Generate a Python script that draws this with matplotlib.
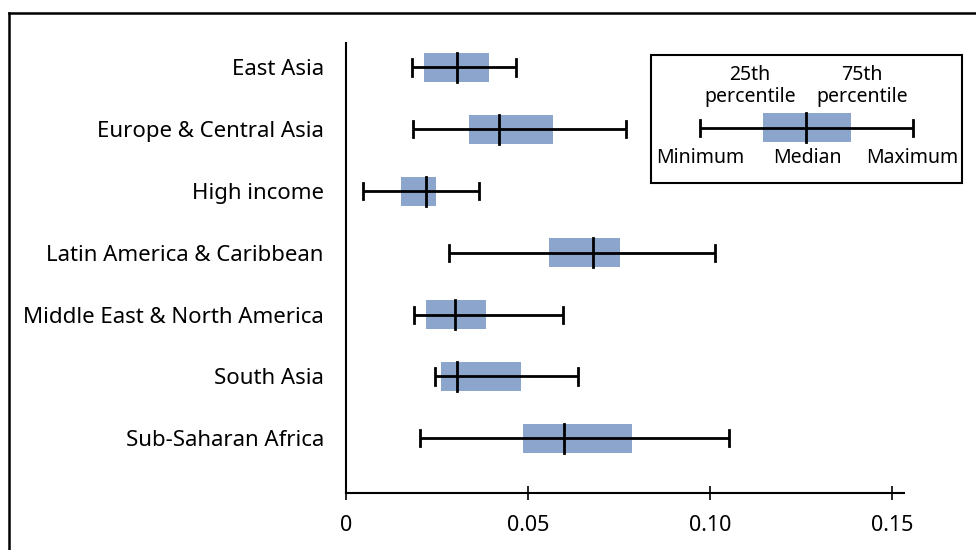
import matplotlib
matplotlib.use("Agg")
import matplotlib.pyplot as plt
from matplotlib.patches import Rectangle

plt.rcParams['font.family'] = ['Noto Sans', 'DejaVu Sans']

regions = ["East Asia", "Europe & Central Asia", "High income",
           "Latin America & Caribbean", "Middle East & North America",
           "South Asia", "Sub-Saharan Africa"]
minimum = [0.0181, 0.0184, 0.0048, 0.0283, 0.0187, 0.0245, 0.0202]
q25     = [0.0214, 0.0337, 0.0151, 0.0559, 0.0219, 0.0260, 0.0485]
median  = [0.0306, 0.0420, 0.0221, 0.0679, 0.0300, 0.0305, 0.0600]
q75     = [0.0394, 0.0570, 0.0247, 0.0754, 0.0384, 0.0480, 0.0787]
maximum = [0.0466, 0.0768, 0.0366, 0.1014, 0.0597, 0.0638, 0.1052]
xticks = [0, 0.05, 0.10, 0.15]
xticklabels = ["0", "0.05", "0.10", "0.15"]

W, H = 976, 550
fig = plt.figure(figsize=(W/100, H/100), dpi=100)
ax = fig.add_axes([346/W, (H-493)/H, (904-346)/W, (493-43)/H])

box_color = "#8BA5CC"
box_h = 0.47
cap_h = 0.26
lw = 2.0
for i in range(len(regions)):
    ax.add_patch(Rectangle((q25[i], i - box_h/2), q75[i]-q25[i], box_h,
                           facecolor=box_color, edgecolor="none", zorder=1))
    ax.plot([minimum[i], maximum[i]], [i, i], color="black", lw=lw, zorder=2,
            solid_capstyle="butt")
    for v in (minimum[i], maximum[i]):
        ax.plot([v, v], [i - cap_h/2, i + cap_h/2], color="black", lw=lw, zorder=2)
    ax.plot([median[i], median[i]], [i - box_h/2, i + box_h/2], color="black",
            lw=lw, zorder=3)

ax.set_xlim(0, 0.1533)
ax.set_ylim(6.885, -0.396)
ax.set_yticks(range(len(regions)))
ax.set_yticklabels(regions, fontsize=16, fontweight=500)
ax.tick_params(axis='y', length=0, pad=16)
ax.set_xticks(xticks)
ax.set_xticklabels(xticklabels, fontsize=15.5, fontweight=500)
ax.tick_params(axis='x', direction='inout', length=10, width=1.2, pad=11)
for s in ('top', 'right'):
    ax.spines[s].set_visible(False)
for s in ('left', 'bottom'):
    ax.spines[s].set_linewidth(1.5)

# overlay axes in pixel coordinates for frame and legend
ov = fig.add_axes([0, 0, 1, 1], zorder=5)
ov.set_xlim(0, W)
ov.set_ylim(H, 0)
ov.axis('off')
ov.patch.set_alpha(0)
ov.plot([9, 9], [13, H + 5], color="black", lw=1.8, clip_on=False)
ov.plot([9, W + 5], [13, 13], color="black", lw=1.8, clip_on=False)

# legend box
ov.add_patch(Rectangle((651, 55), 962-651, 183-55, facecolor="white",
                       edgecolor="black", lw=1.5))
ov.add_patch(Rectangle((763, 113), 851-763, 142-113, facecolor=box_color,
                       edgecolor="none"))
ov.plot([700, 913], [128, 128], color="black", lw=lw, solid_capstyle="butt")
for xx in (700, 913):
    ov.plot([xx, xx], [120, 136], color="black", lw=lw)
ov.plot([806, 806], [113, 142], color="black", lw=lw)
fs = 14
ov.text(750, 75, "25th", ha="center", va="center", fontsize=fs, fontweight=500)
ov.text(750, 97, "percentile", ha="center", va="center", fontsize=fs, fontweight=500)
ov.text(862, 75, "75th", ha="center", va="center", fontsize=fs, fontweight=500)
ov.text(862, 97, "percentile", ha="center", va="center", fontsize=fs, fontweight=500)
ov.text(700, 158, "Minimum", ha="center", va="center", fontsize=fs, fontweight=500)
ov.text(807, 158, "Median", ha="center", va="center", fontsize=fs, fontweight=500)
ov.text(912, 158, "Maximum", ha="center", va="center", fontsize=fs, fontweight=500)

fig.savefig("out.png", dpi=100)
